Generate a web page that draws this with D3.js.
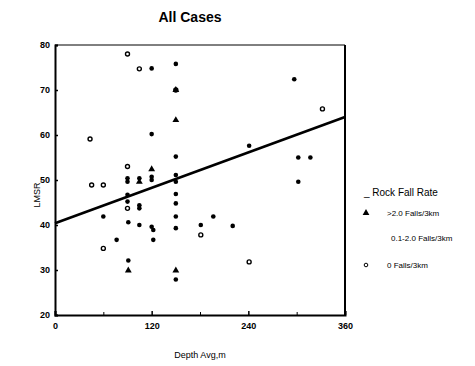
<!DOCTYPE html>
<html>
<head>
<meta charset="utf-8">
<script src="https://cdn.jsdelivr.net/npm/d3@7"></script>
<style>
  body { margin: 0; background: #fff; }
  svg { font-family: "Liberation Sans", Arial, sans-serif; }
</style>
</head>
<body>
<svg id="chart" width="475" height="366"></svg>
<script>
// data: [depth, value]
const highRate = [[150, 63.3], [150, 70], [120, 52.4], [104.7, 49.6], [91, 29.9], [150, 29.9]];
const midRate = [
  [120, 74.8], [150, 75.8], [120, 60.2], [150, 55.2], [120, 50.7], [150, 51.1], [104.7, 50.4],
  [90, 50.4], [90, 49.6], [120, 50], [150, 49.6], [90, 46.7], [150, 46.9], [90, 45.2],
  [104.7, 44.4], [150, 44.8], [60, 41.9], [104.7, 43.7], [150, 41.9], [91, 40.6], [104.7, 40],
  [120, 39.6], [150, 39.3], [181, 40], [122, 38.9], [76.5, 36.7], [122, 36.7], [91, 32.1],
  [150, 27.9], [196.5, 41.9], [220.6, 39.8], [241, 57.6], [302, 55], [317, 55], [302, 49.6], [297, 72.4]
];
const zeroRate = [
  [90, 78], [104.7, 74.7], [43.5, 59.1], [90, 53], [45.5, 48.9], [60, 48.9], [60, 34.8],
  [181, 37.8], [241, 31.8], [332, 65.8], [90, 43.7], [150, 70]
];
const fitLine = [[0, 40.4], [360, 64]];
const xTicks = [0, 120, 240, 360];
const xMinor = [60, 180, 300];
const yTicks = [20, 30, 40, 50, 60, 70, 80];
const legendItems = [">2.0 Falls/3km", "0.1-2.0 Falls/3km", "0 Falls/3km"];

const svg = d3.select("#chart");
const x = d3.scaleLinear().domain([0, 360]).range([55, 345]);
const y = d3.scaleLinear().domain([20, 80]).range([315, 45]);

// frame: thin top, heavier right
svg.append("line").attr("x1", 55).attr("x2", 345).attr("y1", 45).attr("y2", 45)
  .attr("stroke", "#000").attr("stroke-width", 1);
svg.append("line").attr("x1", 345).attr("x2", 345).attr("y1", 45).attr("y2", 315)
  .attr("stroke", "#000").attr("stroke-width", 2);

const xAxis = svg.append("g").attr("transform", "translate(0,315)")
  .call(d3.axisBottom(x).tickValues(xTicks).tickSize(-4).tickPadding(8));
svg.append("g").attr("transform", "translate(0,315)")
  .call(d3.axisBottom(x).tickValues(xMinor).tickSize(-3).tickFormat(""))
  .call(g => g.select(".domain").remove());
const yAxis = svg.append("g").attr("transform", "translate(55,0)")
  .call(d3.axisLeft(y).tickValues(yTicks).tickSize(-3).tickPadding(5));
[xAxis, yAxis].forEach(g => {
  g.select(".domain").attr("stroke-width", 2);
  g.selectAll("text").attr("font-size", 9).attr("font-weight", "bold").attr("fill", "#000");
  g.selectAll("line").attr("stroke-width", 1.5);
});

// regression line
svg.append("path")
  .datum(fitLine)
  .attr("d", d3.line().x(d => x(d[0])).y(d => y(d[1])))
  .attr("stroke", "#000").attr("stroke-width", 2.6).attr("fill", "none");

const tri = d3.symbol().type(d3.symbolTriangle).size(20);

svg.append("g").selectAll("circle")
  .data(midRate).join("circle")
  .attr("cx", d => x(d[0])).attr("cy", d => y(d[1]))
  .attr("r", 2.3).attr("fill", "#000");

svg.append("g").selectAll("circle")
  .data(zeroRate).join("circle")
  .attr("cx", d => x(d[0])).attr("cy", d => y(d[1]))
  .attr("r", 2).attr("fill", "#fff").attr("stroke", "#000").attr("stroke-width", 1.4);

svg.append("g").selectAll("path")
  .data(highRate).join("path")
  .attr("transform", d => `translate(${x(d[0])},${y(d[1])})`)
  .attr("d", tri).attr("fill", "#000");

// title and axis labels
svg.append("text").attr("x", 190).attr("y", 22).attr("text-anchor", "middle")
  .attr("font-size", 14).attr("font-weight", "bold").text("All Cases");
svg.append("text").attr("x", 200).attr("y", 358).attr("text-anchor", "middle")
  .attr("font-size", 9).text("Depth Avg,m");
svg.append("text").attr("transform", "translate(40,195) rotate(-90)").attr("text-anchor", "middle")
  .attr("font-size", 9).text("LMSR");

// legend
const lg = svg.append("g").attr("font-size", 8);
lg.append("text").attr("x", 364).attr("y", 196).attr("font-size", 10).text("_ Rock Fall Rate");
const rowY = [216, 241, 268];
lg.append("path").attr("transform", `translate(366,${rowY[0] - 3})`).attr("d", tri).attr("fill", "#000");
lg.append("circle").attr("cx", 366).attr("cy", rowY[2] - 3).attr("r", 1.8)
  .attr("fill", "#fff").attr("stroke", "#000").attr("stroke-width", 1);
lg.selectAll("text.item").data(legendItems).join("text")
  .attr("class", "item")
  .attr("x", (d, i) => i === 1 ? 391 : 387).attr("y", (d, i) => rowY[i]).text(d => d);
</script>
</body>
</html>
